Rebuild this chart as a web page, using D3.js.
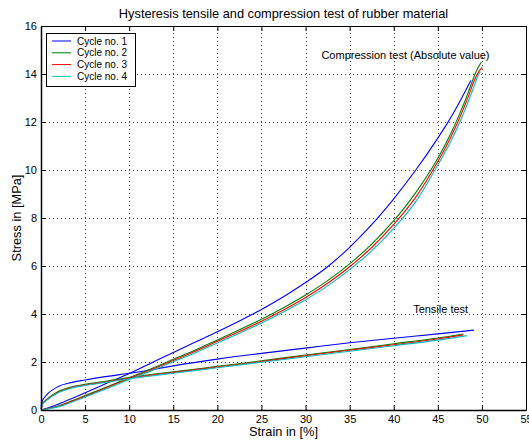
<!DOCTYPE html>
<html lang="en">
<head>
<meta charset="utf-8" />
<title>hysteresis</title>
<script src="https://d3js.org/d3.v7.min.js"></script>
<style>
  body { margin: 0; background: #fff; }
  text { font-family: "Liberation Sans", Arial, Helvetica, sans-serif; }
</style>
</head>
<body>
<div id="myDiv"></div>
<script>
// tick labels
var xTicks = [0, 5, 10, 15, 20, 25, 30, 35, 40, 45, 50, 55];
var yTicks = [0, 2, 4, 6, 8, 10, 12, 14, 16];

var cycleNames = ["Cycle no. 1", "Cycle no. 2", "Cycle no. 3", "Cycle no. 4"];
var cycleColors = ["#0000ff", "#008000", "#ff0000", "#00bfbf"];

// compression test (absolute value), strain [%] and stress [MPa]
var compStrain1 = [0, 1, 2, 3.5, 5, 7.5, 10, 12.5, 15, 17.5, 20, 22.5, 25, 27.5, 30, 32.5, 35, 37.5, 40, 42.5, 45, 46, 47, 47.8, 48.75];
var compStress1 = [0, 0.11, 0.25, 0.48, 0.72, 1.12, 1.52, 1.96, 2.4, 2.83, 3.26, 3.71, 4.19, 4.72, 5.31, 5.97, 6.78, 7.72, 8.8, 10.0, 11.33, 11.9, 12.52, 13.06, 13.73];

var compStrain2 = [0, 1, 2, 3.5, 5, 7.5, 10, 12.5, 15, 17.5, 20, 22.5, 25, 27.5, 30, 32.5, 35, 37.5, 40, 42.5, 45, 46.5, 47.5, 48.2, 49.2, 49.6, 49.95];
var compStress2 = [0, 0.08, 0.18, 0.38, 0.6, 0.97, 1.35, 1.72, 2.11, 2.5, 2.92, 3.34, 3.78, 4.26, 4.79, 5.39, 6.09, 6.91, 7.89, 9.06, 10.49, 11.54, 12.36, 12.99, 13.97, 14.29, 14.5];

var compStrain3 = [0, 1, 2, 3.5, 5, 7.5, 10, 12.5, 15, 17.5, 20, 22.5, 25, 27.5, 30, 32.5, 35, 37.5, 40, 42.5, 45, 46.5, 47.5, 48.2, 49.2, 49.7, 50.03];
var compStress3 = [0, 0.07, 0.16, 0.36, 0.57, 0.94, 1.31, 1.68, 2.06, 2.45, 2.86, 3.27, 3.7, 4.17, 4.69, 5.28, 5.97, 6.77, 7.73, 8.87, 10.35, 11.39, 12.2, 12.81, 13.78, 14.13, 14.28];

var compStrain4 = [0, 1, 2, 3.5, 5, 7.5, 10, 12.5, 15, 17.5, 20, 22.5, 25, 27.5, 30, 32.5, 35, 37.5, 40, 42.5, 45, 46.5, 47.5, 48.2, 49.2, 49.5, 49.8];
var compStress4 = [0, 0.06, 0.14, 0.33, 0.54, 0.9, 1.27, 1.63, 2.01, 2.39, 2.79, 3.2, 3.62, 4.08, 4.59, 5.17, 5.85, 6.63, 7.57, 8.68, 10.21, 11.21, 12.0, 12.61, 13.58, 13.87, 14.1];

// tensile test
var tensStrain1 = [0, 0.15, 0.4, 0.8, 1.9, 3.4, 5, 7.5, 10, 12.5, 15, 20, 25, 30, 35, 40, 45, 49.1];
var tensStress1 = [0.15, 0.38, 0.52, 0.69, 0.97, 1.14, 1.25, 1.4, 1.53, 1.68, 1.84, 2.12, 2.36, 2.58, 2.8, 2.99, 3.17, 3.33];

var tensStrain2 = [0, 0.15, 0.4, 0.8, 1.9, 3.4, 5, 7.5, 10, 12.5, 15, 20, 25, 30, 35, 40, 45, 47.9];
var tensStress2 = [0.05, 0.25, 0.36, 0.49, 0.76, 0.96, 1.07, 1.21, 1.35, 1.48, 1.59, 1.82, 2.05, 2.29, 2.52, 2.76, 3.0, 3.17];

var tensStrain3 = [0, 0.15, 0.4, 0.8, 1.9, 3.4, 5, 7.5, 10, 12.5, 15, 20, 25, 30, 35, 40, 45, 47.9];
var tensStress3 = [0.04, 0.23, 0.34, 0.47, 0.73, 0.93, 1.04, 1.18, 1.32, 1.45, 1.56, 1.79, 2.02, 2.26, 2.49, 2.72, 2.96, 3.13];

var tensStrain4 = [0, 0.15, 0.4, 0.8, 1.9, 3.4, 5, 7.5, 10, 12.5, 15, 20, 25, 30, 35, 40, 45, 48.3];
var tensStress4 = [0.03, 0.21, 0.32, 0.45, 0.71, 0.91, 1.02, 1.16, 1.3, 1.42, 1.53, 1.76, 1.99, 2.22, 2.45, 2.68, 2.91, 3.1];

var compStrain = [compStrain1, compStrain2, compStrain3, compStrain4];
var compStress = [compStress1, compStress2, compStress3, compStress4];
var tensStrain = [tensStrain1, tensStrain2, tensStrain3, tensStrain4];
var tensStress = [tensStress1, tensStress2, tensStress3, tensStress4];

var width = 529, height = 442;
// plot box (note: "top" is taken by window.top)
var boxLeft = 41, boxRight = 526, boxTop = 26, boxBottom = 410;

var svg = d3.select("#myDiv").append("svg")
    .attr("width", width)
    .attr("height", height);

var xScale = d3.scaleLinear().domain([0, 55]).range([boxLeft, boxRight]);
var yScale = d3.scaleLinear().domain([0, 16]).range([boxBottom, boxTop]);

// dotted grid
var grid = svg.append("g").attr("stroke", "#444").attr("stroke-dasharray", "1,3").attr("shape-rendering", "crispEdges");
grid.selectAll(".gx").data(xTicks.slice(1, -1)).enter().append("line")
    .attr("x1", function(d){ return Math.round(xScale(d)) + 0.5; })
    .attr("x2", function(d){ return Math.round(xScale(d)) + 0.5; })
    .attr("y1", boxBottom).attr("y2", boxTop);
grid.selectAll(".gy").data(yTicks.slice(1, -1)).enter().append("line")
    .attr("y1", function(d){ return Math.round(yScale(d)) + 0.5; })
    .attr("y2", function(d){ return Math.round(yScale(d)) + 0.5; })
    .attr("x1", boxLeft).attr("x2", boxRight);

// curves
var line = d3.line()
    .x(function(d){ return xScale(d[0]); })
    .y(function(d){ return yScale(d[1]); })
    .curve(d3.curveMonotoneX);

for (var i = 0; i < 4; i++) {
  var comp = d3.zip(compStrain[i], compStress[i]);
  var tens = d3.zip(tensStrain[i], tensStress[i]);
  [comp, tens].forEach(function(pts){
    svg.append("path")
        .attr("d", line(pts))
        .attr("fill", "none")
        .attr("stroke", cycleColors[i])
        .attr("stroke-width", 1.1);
  });
}

// axes, ticks inside like matlab
var tickFont = 11, labelFont = 12.8, legendFont = 10;
var xAxis = svg.append("g")
    .attr("transform", "translate(0," + boxBottom + ")")
    .call(d3.axisBottom(xScale).tickValues(xTicks).tickSize(-5).tickSizeOuter(0).tickPadding(5));
var yAxis = svg.append("g")
    .attr("transform", "translate(" + boxLeft + ",0)")
    .call(d3.axisLeft(yScale).tickValues(yTicks).tickSize(-5).tickSizeOuter(0).tickPadding(4));
svg.append("g")
    .attr("transform", "translate(0," + boxTop + ")")
    .call(d3.axisTop(xScale).tickValues(xTicks).tickSize(-5).tickSizeOuter(0).tickFormat(""));
svg.append("g")
    .attr("transform", "translate(" + boxRight + ",0)")
    .call(d3.axisRight(yScale).tickValues(yTicks).tickSize(-5).tickSizeOuter(0).tickFormat(""));

svg.selectAll(".tick text")
    .attr("font-size", tickFont)
    .attr("font-family", "Liberation Sans, Arial, sans-serif")
    .attr("fill", "#000");
svg.selectAll(".domain").attr("stroke", "#000");
xAxis.select(".domain").attr("stroke-width", 1.5);
yAxis.select(".domain").attr("stroke-width", 1.5);

// text labels
svg.append("text")
    .attr("x", (boxLeft + boxRight) / 2).attr("y", 18)
    .attr("text-anchor", "middle").attr("font-size", labelFont)
    .text("Hysteresis tensile and compression test of rubber material");
svg.append("text")
    .attr("x", (boxLeft + boxRight) / 2).attr("y", 436)
    .attr("text-anchor", "middle").attr("font-size", labelFont)
    .text("Strain in [%]");
svg.append("text")
    .attr("transform", "translate(21," + (boxTop + boxBottom) / 2 + ") rotate(-90)")
    .attr("text-anchor", "middle").attr("font-size", labelFont)
    .text("Stress in [MPa]");
svg.append("text")
    .attr("x", xScale(31.8)).attr("y", yScale(14.62))
    .attr("font-size", tickFont)
    .text("Compression test (Absolute value)");
svg.append("text")
    .attr("x", xScale(42.2)).attr("y", yScale(4.03))
    .attr("font-size", tickFont)
    .text("Tensile test");

// legend
var legend = svg.append("g").attr("transform", "translate(46,33)");
legend.append("rect")
    .attr("x", 0.5).attr("y", 0.5)
    .attr("width", 89).attr("height", 53)
    .attr("fill", "#fff").attr("stroke", "#000");
cycleNames.forEach(function(name, i){
  var ly = 8 + i * 11.8;
  legend.append("line")
      .attr("x1", 6).attr("x2", 25)
      .attr("y1", ly).attr("y2", ly)
      .attr("stroke", cycleColors[i]);
  legend.append("text")
      .attr("x", 31).attr("y", ly + 3.6)
      .attr("font-size", legendFont)
      .text(name);
});
</script>
</body>
</html>
